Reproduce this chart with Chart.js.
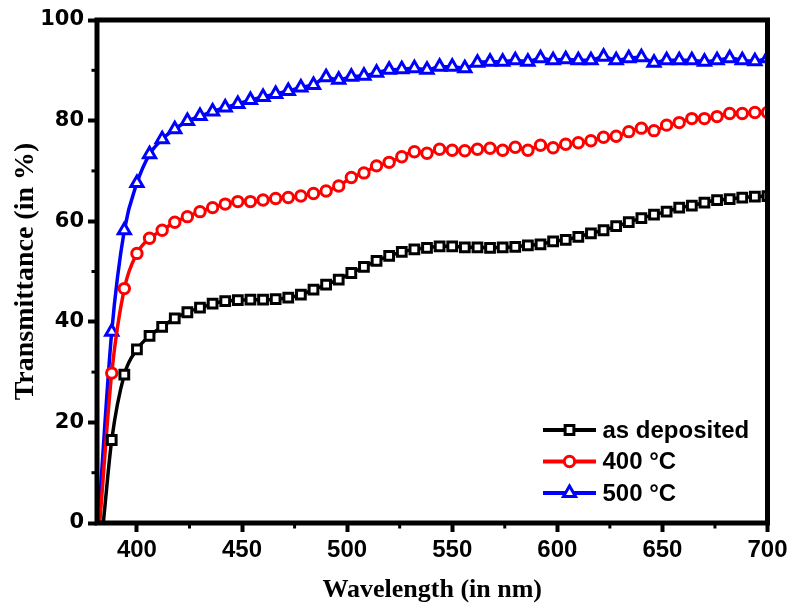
<!DOCTYPE html>
<html>
<head>
<meta charset="utf-8">
<script src="https://cdn.jsdelivr.net/npm/chart.js@4.4.0/dist/chart.umd.min.js"></script>
<style>
  body { margin: 0; background: #fff; }
</style>
</head>
<body>
<canvas id="myChart" width="794" height="608"></canvas>
<script>
    // wavelengths (nm) where the markers sit
    var wavelength = [388, 394, 400, 406, 412, 418, 424, 430, 436, 442, 448, 454, 460, 466, 472, 478, 484, 490,
        496, 502, 508, 514, 520, 526, 532, 538, 544, 550, 556, 562, 568, 574, 580, 586, 592, 598, 604, 610,
        616, 622, 628, 634, 640, 646, 652, 658, 664, 670, 676, 682, 688, 694, 700]

    var asDeposited = [16.5, 29.5, 34.5, 37.2, 39.0, 40.7, 41.9, 42.8, 43.6, 44.1, 44.3, 44.4, 44.4, 44.5, 44.8,
        45.4, 46.4, 47.4, 48.4, 49.7, 50.9, 52.1, 53.1, 53.9, 54.4, 54.7, 55.0, 55.0, 54.8, 54.8, 54.7, 54.8,
        54.9, 55.2, 55.4, 56.0, 56.3, 56.9, 57.6, 58.2, 59.0, 59.8, 60.6, 61.3, 61.9, 62.7, 63.1, 63.7, 64.2,
        64.4, 64.7, 64.9, 65.0]

    var annealed400 = [29.8, 46.6, 53.6, 56.6, 58.2, 59.8, 60.9, 61.9, 62.7, 63.4, 63.9, 63.9, 64.2, 64.5, 64.7,
        65.0, 65.5, 66.0, 67.0, 68.7, 69.6, 71.0, 71.7, 72.8, 73.8, 73.5, 74.3, 74.1, 74.0, 74.3, 74.5, 74.1,
        74.7, 74.1, 75.1, 74.6, 75.3, 75.6, 76.0, 76.7, 76.9, 77.8, 78.5, 78.0, 79.1, 79.6, 80.4, 80.4, 80.8,
        81.4, 81.4, 81.6, 81.6]

    var annealed500 = [38.0, 58.2, 67.6, 73.3, 76.3, 78.3, 79.9, 80.9, 81.8, 82.6, 83.3, 84.1, 84.7, 85.3, 85.9,
        86.6, 87.1, 88.6, 88.1, 88.7, 88.9, 89.5, 90.1, 90.2, 90.4, 90.1, 90.7, 90.7, 90.4, 91.5, 91.7, 91.7,
        92.0, 91.7, 92.4, 92.0, 92.2, 92.0, 92.0, 92.7, 92.0, 92.4, 92.6, 91.5, 92.0, 92.0, 92.0, 91.7, 92.0,
        92.4, 92.0, 91.8, 92.4]

    // absorption edge: wavelength where transmittance drops to 0 (no marker)
    var edgeWavelength = [384, 382.3, 381.6]

    var seriesLabels = ['as deposited', '400 \u00B0C', '500 \u00B0C']
    var seriesColors = ['#000000', '#ff0000', '#0000ff']
    var seriesMarkers = ['rect', 'circle', 'triangle']
    var markerSizes = [6.2, 5.2, 7.0]

    var minorX = [425, 475, 525, 575, 625, 675]
    var minorY = [10, 30, 50, 70, 90]

    function toPoints(edge, values) {
        var pts = [{x: edge, y: 0}]
        for (var i = 0; i < wavelength.length; i++) {
            pts.push({x: wavelength[i], y: values[i]})
        }
        return pts
    }

    var allValues = [asDeposited, annealed400, annealed500]
    var datasets = []
    for (var s = 0; s < 3; s++) {
        (function(s) {
            datasets.push({
                label: seriesLabels[s],
                data: toPoints(edgeWavelength[s], allValues[s]),
                borderColor: seriesColors[s],
                backgroundColor: '#ffffff',
                borderWidth: 3.5,
                cubicInterpolationMode: 'monotone',
                pointStyle: seriesMarkers[s],
                pointRadius: function(c) { return c.dataIndex === 0 ? 0 : markerSizes[s] },
                pointBackgroundColor: '#ffffff',
                pointBorderColor: seriesColors[s],
                pointBorderWidth: 3
            })
        })(s)
    }

    // box around the plot + the short minor ticks
    var framePlugin = {
        id: 'frame',
        afterDatasetsDraw: function(chart) {
            var ctx = chart.ctx
            var a = chart.chartArea
            var x = chart.scales.x
            var y = chart.scales.y
            ctx.save()
            ctx.strokeStyle = '#000'
            ctx.lineWidth = 5
            ctx.strokeRect(a.left, a.top, a.right - a.left, a.bottom - a.top)
            ctx.lineWidth = 3
            minorX.forEach(function(v) {
                var px = x.getPixelForValue(v)
                ctx.beginPath()
                ctx.moveTo(px, a.bottom)
                ctx.lineTo(px, a.bottom + 5.5)
                ctx.stroke()
            })
            minorY.forEach(function(v) {
                var py = y.getPixelForValue(v)
                ctx.beginPath()
                ctx.moveTo(a.left, py)
                ctx.lineTo(a.left - 5.5, py)
                ctx.stroke()
            })
            ctx.restore()
        }
    }

    // legend drawn inside the plot, lower right
    var legendPlugin = {
        id: 'insideLegend',
        afterDraw: function(chart) {
            var ctx = chart.ctx
            var a = chart.chartArea
            var rows = [a.bottom - 93, a.bottom - 61.5, a.bottom - 30]
            var x1 = a.right - 224.5
            var x2 = a.right - 171.5
            ctx.save()
            for (var i = 0; i < 3; i++) {
                var yy = rows[i]
                ctx.strokeStyle = seriesColors[i]
                ctx.lineWidth = 4
                ctx.beginPath()
                ctx.moveTo(x1, yy)
                ctx.lineTo(x2, yy)
                ctx.stroke()
                ctx.fillStyle = '#ffffff'
                ctx.lineWidth = 3
                Chart.helpers.drawPoint(ctx, {
                    pointStyle: seriesMarkers[i],
                    radius: markerSizes[i],
                    rotation: 0,
                    borderWidth: 3
                }, (x1 + x2) / 2, yy)
                ctx.fillStyle = '#000'
                ctx.font = 'bold 24px "Liberation Sans", Arial, sans-serif'
                ctx.textBaseline = 'middle'
                ctx.textAlign = 'left'
                ctx.fillText(seriesLabels[i], a.right - 165, yy + 1)
            }
            ctx.restore()
        }
    }

    var ctx = document.getElementById('myChart').getContext('2d')
    var myChart = new Chart(ctx, {
        type: 'line',
        data: { datasets: datasets },
        plugins: [framePlugin, legendPlugin],
        options: {
            responsive: false,
            animation: false,
            devicePixelRatio: 1,
            layout: { padding: { top: 20, right: 26.5, left: 0, bottom: 0 } },
            plugins: {
                legend: { display: false },
                tooltip: { enabled: false }
            },
            scales: {
                x: {
                    type: 'linear',
                    min: 381,
                    max: 700,
                    afterFit: function(scale) { scale.height = 85 },
                    border: { display: false },
                    grid: {
                        drawOnChartArea: false,
                        drawTicks: true,
                        tickLength: 9,
                        tickWidth: 4,
                        tickColor: '#000'
                    },
                    ticks: {
                        stepSize: 50,
                        includeBounds: false,
                        maxRotation: 0,
                        padding: 4,
                        color: '#000',
                        font: { family: '"Liberation Sans", Arial, sans-serif', weight: 'bold', size: 24 }
                    },
                    title: {
                        display: true,
                        text: 'Wavelength (in nm)',
                        color: '#000',
                        padding: { top: 0, bottom: 2 },
                        font: { family: '"Liberation Serif", "Times New Roman", serif', weight: 'bold', size: 26 }
                    }
                },
                y: {
                    min: 0,
                    max: 100,
                    afterFit: function(scale) { scale.width = 97 },
                    border: { display: false },
                    grid: {
                        drawOnChartArea: false,
                        drawTicks: true,
                        tickLength: 9,
                        tickWidth: 4,
                        tickColor: '#000'
                    },
                    ticks: {
                        stepSize: 20,
                        padding: 4,
                        color: '#000',
                        font: { family: '"DejaVu Sans", sans-serif', weight: 'bold', size: 21 }
                    },
                    title: {
                        display: true,
                        text: 'Transmittance (in %)',
                        color: '#000',
                        padding: { top: 9, bottom: 0 },
                        font: { family: '"Liberation Serif", "Times New Roman", serif', weight: 'bold', size: 28 }
                    }
                }
            }
        }
    });
</script>
</body>
</html>
